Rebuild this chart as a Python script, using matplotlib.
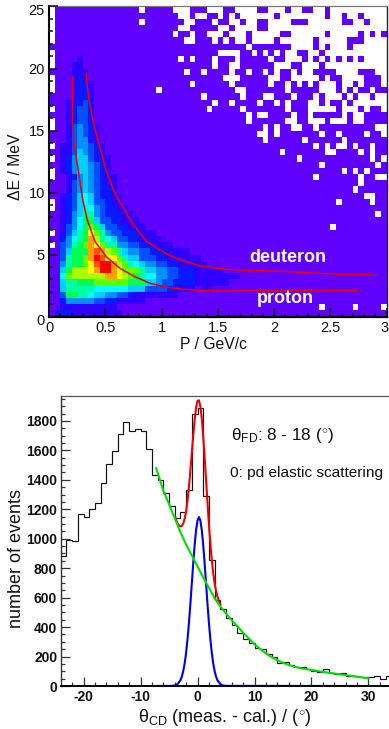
import numpy as np
import matplotlib
matplotlib.use("Agg")
import matplotlib.pyplot as plt
from matplotlib.colors import ListedColormap
from matplotlib.ticker import MultipleLocator, FixedLocator
from matplotlib.transforms import ScaledTranslation

plt.rcParams['font.family'] = ['Liberation Sans', 'DejaVu Sans']
plt.rcParams['mathtext.fontset'] = 'custom'
plt.rcParams['mathtext.rm'] = 'Liberation Sans'
plt.rcParams['mathtext.it'] = 'Liberation Sans:italic'
plt.rcParams['mathtext.bf'] = 'Liberation Sans:bold'
plt.rcParams['axes.unicode_minus'] = False

# ---- top panel: 2D histogram, colour level per bin, row 0 = lowest dE, columns left to right
LEVEL_ROWS = [
 "0222111111111", "001111111111", "00244444332211111", "00388776554433211111111",
 "00577777666666555333322111011", "00577888999999888554332222111111",
 "0069aaaaaaccba98766443322211111111", "0058aaabceecb999755443322211111",
 "0047889bdeeca976544332211111", "0037889cedbb975533322111111",
 "0035888cdca97544332221111", "0034789cb9774433221111",
 "0024678ca76533221111", "0013578b97433222111", "00134689853322111",
 "0012468853322111", "001245774322211", "00123576432211", "0012356533211",
 "0012356532211", "000134543221", "000134543211", "000124543211", "00124554321",
 "00124554321", "00124553211", "0011354321", "0011344321", "000134421", "000134321",
 "000134321", "00012332", "00012332", "00012332", "00011232", "00001221", "00001221",
 "00001221", "0000121", "0000111", "000011", "000001", "", "", "", "", "", "", "", "",
]
LEVEL_COLORS = ["#6000ff", "#3000ff", "#0818ff", "#0050ff", "#0090ff", "#00d0ff", "#00ffff",
                "#00ffa0", "#00ff50", "#60ff00", "#a8ff00", "#ffff00", "#ffa000", "#ff5000", "#ff0000"]
EMPTY_COL0 = [49, 48, 47, 46, 45, 44, 42, 41, 40, 38, 37, 36, 33, 31, 30, 27, 25, 23, 22, 18, 17, 13, 11]
EMPTY_LEFT = {49: [16, 22, 23, 24], 48: [23, 24], 47: [16, 24], 46: [23, 24], 45: [22], 44: [24],
              41: [23], 39: [24], 36: [19]}
EMPTY_RIGHT = {  # column counted from 25
 49: [3,4,5,8,9,10,11,14,15,16,18,19,22,23,25,26,27,28,29,30,31,32,33,34],
 48: [1,2,5,7,9,10,11,12,13,14,16,17,18,19,20,21,22,23,25,26,28,29,31,32,33,34],
 47: [0,4,7,8,10,11,14,15,16,17,21,22,23,24,25,26,29,30,32,33,34],
 46: [5,6,8,9,10,11,14,15,16,17,18,19,20,21,22,23,24,25,26,27,28,29,30,31,32,33,34],
 45: [0,3,4,5,7,8,9,11,12,13,14,15,18,19,20,21,22,23,25,26,27,28,29,31,33],
 44: [0,4,6,8,9,11,12,13,14,16,17,18,19,20,21,23,24,25,26,27,31,32,33,34],
 43: [10,18,19,20,21,23,25,26,27,29,30,31,32,33,34],
 42: [5,6,7,8,11,13,15,17,18,21,22,24,25,26,27,28,29,30,31,32,33,34],
 41: [0,4,8,14,17,18,19,21,23,25,27,29,31,32,33,34],
 40: [4,7,8,15,16,17,20,21,22,24,25,26,27,28,29,30,31,32,33,34],
 39: [2,7,10,13,15,18,20,21,26,27,28,29,33,34],
 38: [6,7,8,14,15,18,19,20,21,22,24,27,28,29,30,34],
 37: [0,7,14,17,19,21,23,24,25,27,28,30,34],
 36: [8,9,17,23,24,25,27,29,32],
 35: [2,9,13,14,18,22,24,25,26,28,30,31,33,34],
 34: [4,7,12,15,17,21,22,24,27,29,30,31,32,33,34],
 33: [3,9,17,21,22,23,24,25,27,28,29,31,34],
 32: [10,12,13,18,21,27,29,30],
 31: [10,17,18,21,22,23,25,26,27,29,30],
 30: [13,15,18,19,22,33,34],
 29: [12,13,15,23,26,31,34],
 28: [13,20,27],
 27: [22,24,26,27,29,32],
 26: [16,24,25,30,32],
 25: [19,32,34],
 24: [23,33],
 23: [27,29,31],
 22: [22,30,33,34],
 21: [30],
 20: [29],
 19: [31,32],
 18: [26,32],
 16: [33],
 14: [25],
 1: [23,29,34],
}
PROTON_P = [0.21, 0.21, 0.222, 0.24, 0.26, 0.3, 0.34, 0.409, 0.513, 0.631, 0.75, 0.898, 1.046, 1.194, 1.342, 1.549, 2.142, 2.749]
PROTON_E = [19.3, 16.1, 14.0, 12.9, 11.8, 9.4, 7.8, 6.05, 4.79, 3.9, 3.28, 2.69, 2.37, 2.21, 2.12, 2.07, 2.13, 2.13]
DEUTERON_P = [0.329, 0.35, 0.394, 0.453, 0.507, 0.572, 0.66, 0.75, 0.868, 1.046, 1.194, 1.342, 1.49, 1.668, 2.142, 2.528, 2.877]
DEUTERON_E = [19.6, 17.75, 15.6, 13.6, 11.8, 10.2, 8.74, 7.4, 6.05, 5.05, 4.5, 4.1, 3.9, 3.77, 3.63, 3.44, 3.39]

# ---- bottom panel
HIST_EDGES = list(range(-24, 35))
HIST_COUNTS = [881, 994, 985, 1165, 1147, 1203, 1241, 1377, 1507, 1597, 1714, 1795, 1728, 1748, 1730, 1608,
               1435, 1399, 1309, 1221, 1142, 1183, 1331, 1845, 1885, 1289, 854, 586, 523, 461, 416, 359, 318,
               291, 257, 250, 218, 195, 155, 166, 143, 132, 132, 114, 102, 98, 116, 91, 82, 86, 68, 68, 61, 59,
               61, 66, 45, 68]
GREEN_X = [-7.25, -6, -5, -4, -3, -2, -1, 0, 1, 2, 3, 4, 5, 6, 7, 8, 9, 10, 11, 12, 13, 14, 15, 16, 17, 18, 19, 20, 22, 24, 26, 28, 30]
GREEN_Y = [1478, 1327, 1235, 1140, 1045, 960, 887, 812, 737, 667, 596, 540, 493, 447, 405, 362, 323, 283, 252, 222, 196, 176, 157, 143, 131, 122, 115, 109, 96, 85, 74, 63, 52]
BLUE_X = [-7.5, -4.5, -4, -3.5, -3, -2.75, -2.5, -2.25, -2, -1.75, -1.5, -1.25, -1, -0.75, -0.5, -0.25, 0, 0.25,
          0.5, 0.75, 1, 1.25, 1.5, 1.75, 2, 2.25, 2.5, 2.75, 3, 3.25, 3.5, 4, 4.5, 5, 30]
BLUE_Y = [0, 1, 3, 13, 39, 64, 102, 155, 227, 319, 430, 558, 696, 833, 958, 1059, 1124, 1147,
          1124, 1059, 958, 833, 696, 558, 430, 319, 227, 155, 102, 64, 39, 13, 3, 1, 0]
RED_X = [-3.9, -3.75, -3.5, -3.25, -3, -2.75, -2.5, -2.25, -2, -1.75, -1.5, -1.25, -1, -0.75, -0.5, -0.25, 0, 0.25,
         0.5, 0.75, 1, 1.25, 1.5, 1.75, 2, 2.25, 2.5, 2.75, 3, 3.25, 3.5, 3.75, 4]
RED_Y = [1147, 1127, 1103, 1089, 1084, 1087, 1104, 1136, 1187, 1260, 1353, 1463, 1583, 1701, 1808, 1890, 1936, 1940,
         1899, 1815, 1695, 1553, 1398, 1243, 1097, 968, 859, 769, 698, 646, 607, 577, 553]

W, H = 389, 729
fig = plt.figure(figsize=(W / 100, H / 100), dpi=100)


def axes_px(l, t, r, b):
    return fig.add_axes([l / W, 1 - b / H, (r - l) / W, (b - t) / H])


# top panel
ax = axes_px(49, 5.6, 386.6, 316.7)
grid = np.zeros((50, 60))
for j, row in enumerate(LEVEL_ROWS):
    for i, c in enumerate(row):
        grid[j, i] = int(c, 16)
mask = np.zeros_like(grid, dtype=bool)
for j in EMPTY_COL0:
    mask[j, 0] = True
for j, cols in EMPTY_LEFT.items():
    mask[j, cols] = True
for j, cols in EMPTY_RIGHT.items():
    mask[j, [c + 25 for c in cols]] = True
ax.pcolormesh(np.arange(61) * 0.05, np.arange(51) * 0.5, np.ma.array(grid, mask=mask),
              cmap=ListedColormap(LEVEL_COLORS), vmin=-0.5, vmax=14.5, antialiased=False, linewidth=0)
ax.plot(PROTON_P, PROTON_E, color="#f00000", lw=1.15)
ax.plot(DEUTERON_P, DEUTERON_E, color="#f00000", lw=1.15)
ax.set_xlim(0, 3)
ax.set_ylim(0, 25.07)
ax.xaxis.set_major_locator(MultipleLocator(0.5))
ax.xaxis.set_minor_locator(MultipleLocator(0.1))
ax.yaxis.set_major_locator(MultipleLocator(5))
ax.yaxis.set_minor_locator(MultipleLocator(1))
ax.set_xticks([0, 0.5, 1, 1.5, 2, 2.5, 3])
ax.set_xticklabels(["0", "0.5", "1", "1.5", "2", "2.5", "3"])
ax.tick_params(which='major', direction='in', length=6.8, width=1.1, labelsize=10.5, pad=3, top=False, right=False, colors='#111111')
ax.tick_params(which='minor', direction='in', length=3.2, width=1.1, top=False, right=False, colors='#111111')
for s, c, w in [('left', 'black', 1.5), ('bottom', 'black', 1.6), ('top', '#777777', 0.9), ('right', '#222222', 1.0)]:
    ax.spines[s].set_color(c)
    ax.spines[s].set_linewidth(w)
ax.set_axisbelow(False)
fig.canvas.draw()
for t in ax.get_yticklabels():
    if t.get_text() == "25":
        t.set_transform(t.get_transform() + ScaledTranslation(0, -3 / 100, fig.dpi_scale_trans))
    if t.get_text() == "0":
        t.set_transform(t.get_transform() + ScaledTranslation(0, -2.5 / 100, fig.dpi_scale_trans))
for t in ax.get_xticklabels():
    if t.get_text() == "3":
        t.set_ha('right')
        t.set_transform(t.get_transform() + ScaledTranslation(2 / 100, 0, fig.dpi_scale_trans))
ax.text(287.5 / W, 1 - 257 / H, "deuteron", transform=fig.transFigure, color="white", fontweight='bold',
        fontsize=13, ha='center', va='center')
ax.text(285.5 / W, 1 - 299 / H, "proton", transform=fig.transFigure, color="white", fontweight='bold',
        fontsize=13, ha='center', va='center')
fig.text(213.5 / W, 1 - 345 / H, "P / GeV/c", fontsize=11.3, ha='center', va='center', color='#111111')
fig.text(15.5 / W, 1 - 166.5 / H, "\u0394E / MeV", fontsize=11.3, rotation=90, ha='center', va='center', color='#111111')

# bottom panel
bx = axes_px(61.3, 395.7, 389, 686)
bx.stairs(HIST_COUNTS, HIST_EDGES, color="#111111", lw=0.85, baseline=None)
bx.plot(RED_X, RED_Y, color="#f00000", lw=1.5)
bx.plot(BLUE_X, BLUE_Y, color="#0000e8", lw=1.5)
bx.plot(GREEN_X, GREEN_Y, color="#00e000", lw=1.5)
bx.set_xlim(-23.9, 33.6)
bx.set_ylim(0, 1971)
bx.xaxis.set_major_locator(FixedLocator([-20, -10, 0, 10, 20, 30]))
bx.xaxis.set_minor_locator(MultipleLocator(2))
bx.yaxis.set_major_locator(MultipleLocator(200))
bx.yaxis.set_minor_locator(MultipleLocator(50))
bx.tick_params(which='major', direction='in', length=6.6, width=0.9, labelsize=10, pad=3, top=False, right=False, color='#333333', labelcolor='#111111')
bx.tick_params(which='minor', direction='in', length=3.2, width=0.9, top=False, right=False, color='#333333')
for t in bx.get_xticklabels() + bx.get_yticklabels():
    t.set_fontweight('bold')
for s, c, w in [('left', '#333333', 1.0), ('bottom', 'black', 1.4), ('top', '#555555', 0.9)]:
    bx.spines[s].set_color(c)
    bx.spines[s].set_linewidth(w)
bx.spines['right'].set_visible(False)
fig.text(225 / W, 1 - 717 / H, "$\\mathrm{\u03b8_{CD}}$ (meas. - cal.) / ($^{\\circ}$)", fontsize=13, ha='center', va='center', color='#111111')
fig.text(17 / W, 1 - 558 / H, "number of events", fontsize=13, rotation=90, ha='center', va='center', color='#111111')
fig.text(231 / W, 1 - 440 / H, "$\\mathrm{\u03b8_{FD}}$: 8 - 18 ($^{\\circ}$)", fontsize=12.3, ha='left', va='baseline', color='#111111')
fig.text(230 / W, 1 - 473.5 / H, "0: pd elastic scattering", fontsize=11.1, ha='left', va='center', color='#111111')

fig.savefig("out.png", dpi=100, facecolor='white')
